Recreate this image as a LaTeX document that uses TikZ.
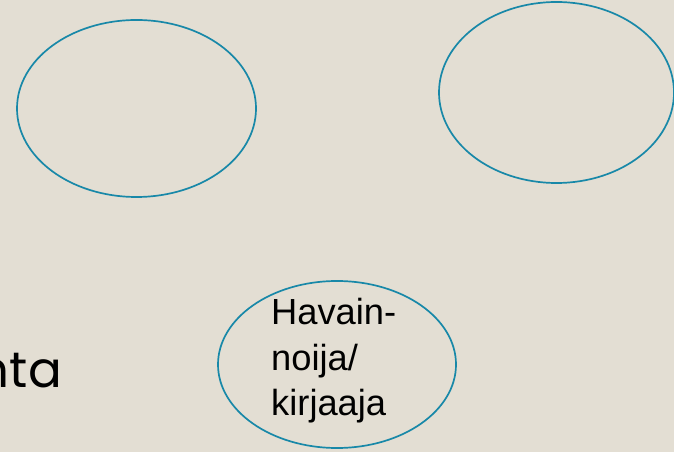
\documentclass[tikz,border=0pt]{standalone}
\usepackage{fontspec}
\usetikzlibrary{shapes.geometric}
\newfontfamily\arialf{Liberation Sans}
\newfontfamily\gothicf{Poppins}
\definecolor{bgc}{RGB}{227,222,211}
\definecolor{tealc}{RGB}{24,136,168}
\tikzset{
  ell/.style={draw=tealc, line width=1.7pt, ellipse, inner sep=0pt},
}
\begin{document}
\begin{tikzpicture}[x=1pt,y=1pt]
\useasboundingbox (0,0) rectangle (674,452);
\clip (0,0) rectangle (674,452);
\fill[bgc] (0,0) rectangle (674,452);
\node[ell, minimum width=239pt, minimum height=177pt] (e1) at (136.5,343.5) {};
\node[ell, minimum width=235pt, minimum height=181pt] (e2) at (556.5,359.5) {};
\node[ell, minimum width=238pt, minimum height=167pt] (e3) at (337,87.5) {};
\node[anchor=base west, inner sep=0pt, align=left, font=\arialf\fontsize{36.3}{45.5}\selectfont] (obs) at (271,36) {Havain-\\noija/\\kirjaaja};
\node[anchor=base east, inner sep=0pt, font=\gothicf\fontsize{50}{58}\selectfont] (nta) at (62,64.3) {nta};
\end{tikzpicture}
\end{document}
